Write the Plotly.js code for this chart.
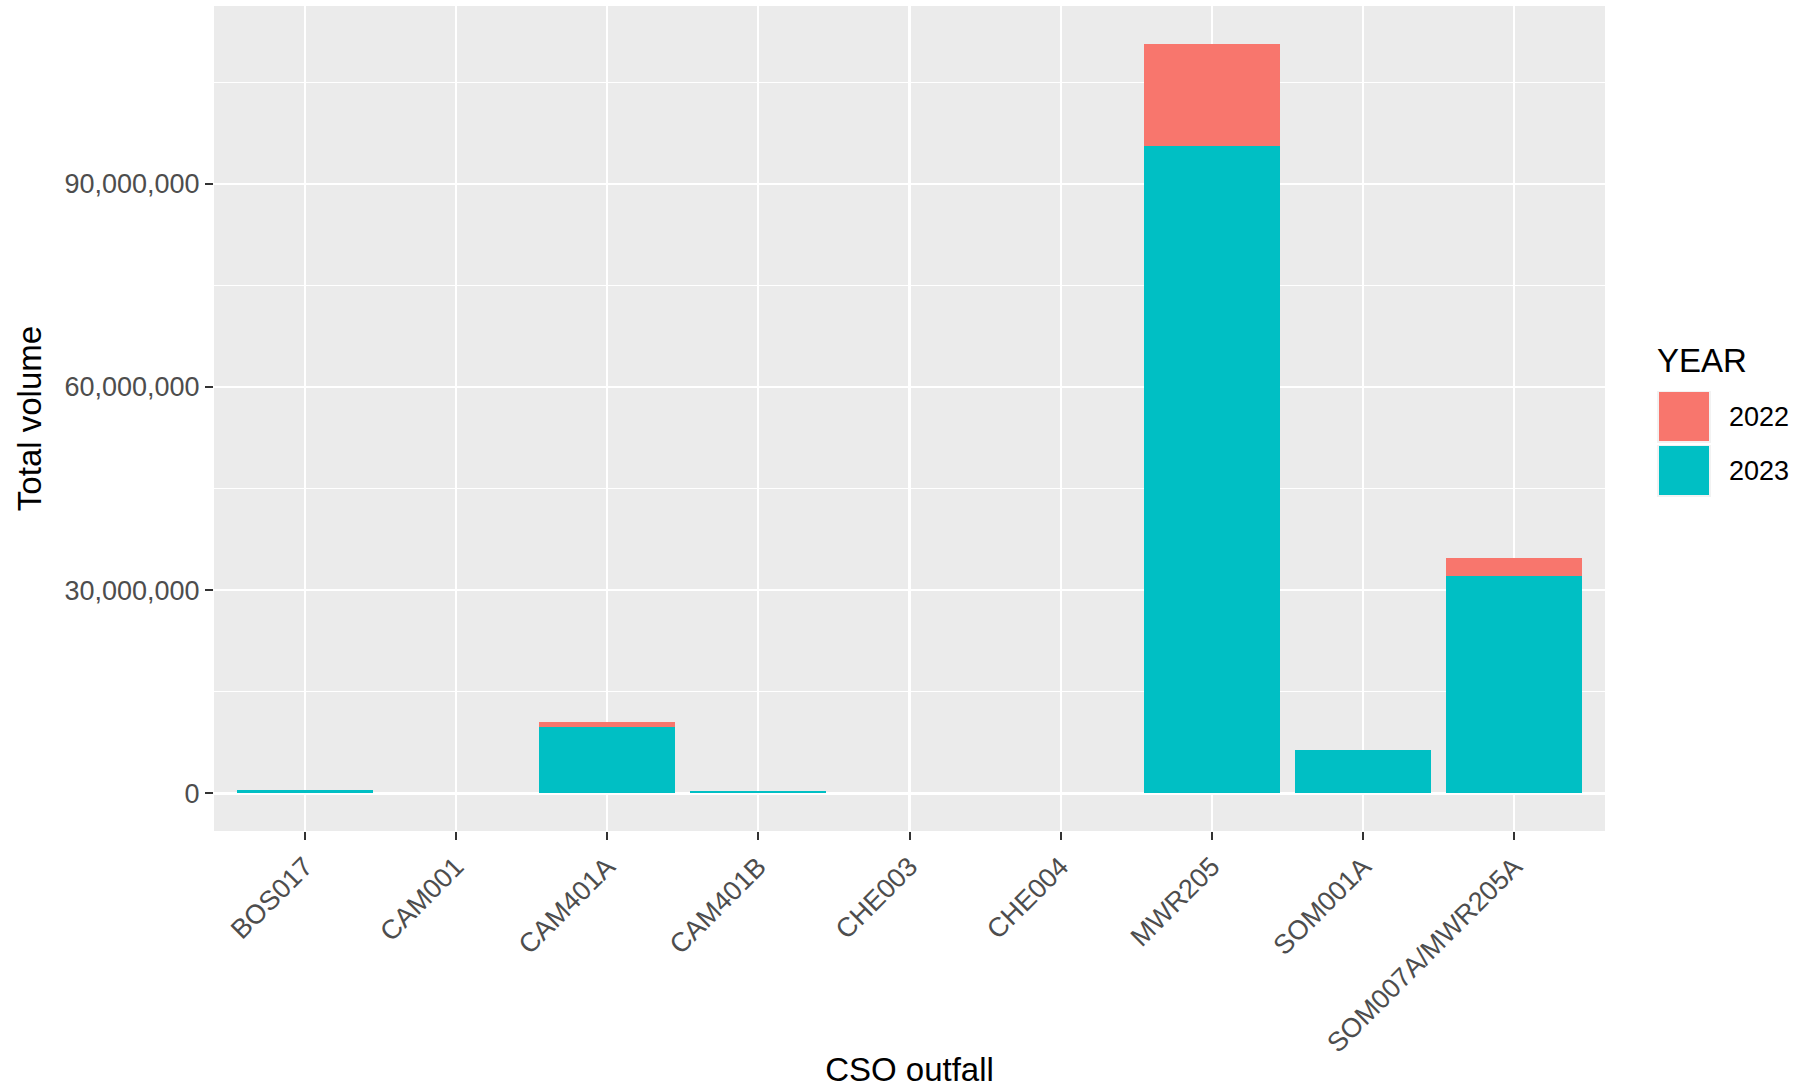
<!DOCTYPE html>
<html>
<head>
<meta charset="utf-8">
<script src="https://cdn.plot.ly/plotly-3.0.1.min.js"></script>
<style>
html,body{margin:0;padding:0;background:#fff;}
#chart{width:1801px;height:1088px;}
</style>
</head>
<body>
<div id="chart"></div>
<script>
// ---- data ----
const categories = ['BOS017','CAM001','CAM401A','CAM401B','CHE003','CHE004','MWR205','SOM001A','SOM007A/MWR205A'];
const vol2023 = [540000, 0, 9880000, 350000, 30000, 80000, 95600000, 6430000, 32060000];
const vol2022 = [0, 0, 600000, 0, 0, 0, 15100000, 0, 2720000];
const years = ['2022', '2023'];
const yTickVals = [0, 30000000, 60000000, 90000000];

// ---- style ----
const colors = {'2022': '#F8766D', '2023': '#00BFC4'};
const FONT = 'Liberation Sans, Arial, Helvetica, sans-serif';
const W = 1801, H = 1088;
const M = {l: 214, r: 196, t: 6, b: 257};
const plotW = W - M.l - M.r, plotH = H - M.t - M.b;
const px2x = px => (px - M.l) / plotW;
const py2y = py => (H - M.b - py) / plotH;

const traces = [
  {type: 'bar', name: '2023', x: categories, y: vol2023, width: 0.9,
   marker: {color: colors['2023'], line: {width: 0}}, showlegend: false, hoverinfo: 'skip'},
  {type: 'bar', name: '2022', x: categories, y: vol2022, width: 0.9,
   marker: {color: colors['2022'], line: {width: 0}}, showlegend: false, hoverinfo: 'skip'}
];

// custom ggplot-style legend
const shapes = [];
const annotations = [];
annotations.push({xref: 'paper', yref: 'paper', x: px2x(1655), y: py2y(360), xanchor: 'left', yanchor: 'middle',
  text: 'YEAR', showarrow: false, font: {family: FONT, size: 33, color: '#000'}});
years.forEach((yr, i) => {
  const top = 391 + i * 54;
  shapes.push({type: 'rect', xref: 'paper', yref: 'paper', x0: px2x(1657), x1: px2x(1711),
    y0: py2y(top), y1: py2y(top + 52), fillcolor: '#F2F2F2', line: {width: 0}, layer: 'above'});
  shapes.push({type: 'rect', xref: 'paper', yref: 'paper', x0: px2x(1659), x1: px2x(1709),
    y0: py2y(top + 1), y1: py2y(top + 50), fillcolor: colors[yr], line: {width: 0}, layer: 'above'});
  annotations.push({xref: 'paper', yref: 'paper', x: px2x(1727), y: py2y(top + 26), xanchor: 'left', yanchor: 'middle',
    text: yr, showarrow: false, font: {family: FONT, size: 27, color: '#000'}});
});

const layout = {
  width: W, height: H,
  margin: M,
  paper_bgcolor: '#FFFFFF',
  plot_bgcolor: '#EBEBEB',
  barmode: 'stack',
  showlegend: false,
  font: {family: FONT, color: '#4D4D4D'},
  separators: '.,',
  xaxis: {
    type: 'category',
    range: [-0.6, categories.length - 0.4],
    tickangle: -45,
    tickfont: {family: FONT, size: 27, color: '#4D4D4D'},
    ticks: 'outside', ticklen: 8, tickwidth: 2, tickcolor: '#333333',
    showgrid: true, gridcolor: '#FFFFFF', gridwidth: 2.2,
    showline: false, zeroline: false,
    automargin: false,
    title: {text: 'CSO outfall', font: {family: FONT, size: 33, color: '#000'}, standoff: 8}
  },
  yaxis: {
    range: [-5540000, 116240000],
    tickvals: yTickVals,
    tickformat: ',d',
    tickfont: {family: FONT, size: 27, color: '#4D4D4D'},
    ticks: 'outside', ticklen: 8, tickwidth: 2, tickcolor: '#333333',
    showgrid: true, gridcolor: '#FFFFFF', gridwidth: 2.2,
    minor: {dtick: 15000000, tick0: 0, showgrid: true, gridcolor: '#FFFFFF', gridwidth: 1.1, ticks: ''},
    showline: false, zeroline: false,
    automargin: false,
    title: {text: 'Total volume', font: {family: FONT, size: 33, color: '#000'}, standoff: 12}
  },
  shapes: shapes,
  annotations: annotations
};

Plotly.newPlot('chart', traces, layout, {displayModeBar: false, staticPlot: true});
</script>
</body>
</html>
